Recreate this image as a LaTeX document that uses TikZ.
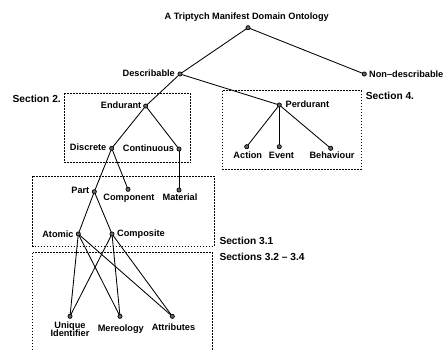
\documentclass[tikz,border=0pt]{standalone}
\usepackage{fontspec}
\setmainfont{Liberation Sans}
\newcommand\mytightlines{\lineskiplimit=-20pt\relax\lineskip=0pt\relax}
\begin{document}
\begin{tikzpicture}[x=1pt,y=-1pt,
  dot/.style={circle,draw=black,fill=black!60,line width=0.7pt,inner sep=0pt,minimum size=4.2pt},
  lbl/.style={font=\fontsize{9.2}{9}\selectfont\bfseries,inner sep=0pt},
  sec/.style={font=\fontsize{10.2}{10}\selectfont\bfseries,inner sep=0pt,anchor=west},
  edge/.style={line width=0.85pt},
  secbox/.style={line width=0.7pt,dash pattern=on 1.6pt off 1.4pt}]
\useasboundingbox (0,0) rectangle (446,349);
\clip (0,0) rectangle (446,349);
% section boxes
\draw[secbox] (64.3,93.3) rectangle (190.7,162.7);
\draw[secbox] (222.7,90.7) rectangle (361,169.3);
\draw[secbox] (32.7,176) rectangle (214.3,246);
\draw[secbox] (32.7,252.7) rectangle (212.3,360);
\node[sec,anchor=east] (s2) at (61,98.7) {Section 2.};
\node[sec] (s4) at (365.7,95.7) {Section 4.};
\node[sec] (s31) at (219.3,241) {Section 3.1};
\node[sec] (s32) at (219.3,257.3) {Sections 3.2 -- 3.4};
% node positions
\coordinate (root) at (248,27.7);
\coordinate (desc) at (180,74);
\coordinate (ndesc) at (364.3,74);
\coordinate (end) at (145.7,106);
\coordinate (per) at (279.3,105);
\coordinate (disc) at (111.7,148.3);
\coordinate (cont) at (179,149);
\coordinate (part) at (94.3,191.7);
\coordinate (comp) at (128,189.3);
\coordinate (mat) at (179,190);
\coordinate (act) at (246.7,146.7);
\coordinate (evt) at (279.3,146.7);
\coordinate (beh) at (330.7,148.3);
\coordinate (atom) at (78.3,234);
\coordinate (cmps) at (112,234);
\coordinate (uid) at (70,316.3);
\coordinate (mer) at (120,316.3);
\coordinate (att) at (172.3,316.3);
% edges
\draw[edge] (root) -- (desc);
\draw[edge] (root) -- (ndesc);
\draw[edge] (desc) -- (end);
\draw[edge] (desc) -- (per);
\draw[edge] (end) -- (disc);
\draw[edge] (end) -- (cont);
\draw[edge] (disc) -- (part);
\draw[edge] (disc) -- (comp);
\draw[edge] (cont) -- (mat);
\draw[edge] (per) -- (act);
\draw[edge] (per) -- (evt);
\draw[edge] (per) -- (beh);
\draw[edge] (part) -- (atom);
\draw[edge] (part) -- (cmps);
\draw[edge] (atom) -- (uid);
\draw[edge] (atom) -- (mer);
\draw[edge] (atom) -- (att);
\draw[edge] (cmps) -- (uid);
\draw[edge] (cmps) -- (mer);
\draw[edge] (cmps) -- (att);
% dots on top
\foreach \n in {root,desc,ndesc,end,per,disc,cont,part,comp,mat,act,evt,beh,atom,cmps,uid,mer,att}
  \node[dot] (d\n) at (\n) {};
% labels
\node[lbl] (tTitle) at (246.7,17.3) {A Triptych Manifest Domain Ontology};
\node[lbl,anchor=east] (tdesc) at (175,73) {Describable};
\node[lbl,anchor=west] (tndesc) at (369,74) {Non--describable};
\node[lbl,anchor=east] (tend) at (141.5,105) {Endurant};
\node[lbl,anchor=west] (tper) at (285.5,104.3) {Perdurant};
\node[lbl,anchor=east] (tdisc) at (106.5,147.7) {Discrete};
\node[lbl,anchor=east] (tcont) at (174.2,148.3) {Continuous};
\node[lbl,anchor=east] (tpart) at (89.5,190.7) {Part};
\node[lbl] (tcomp) at (129,198.7) {Component};
\node[lbl] (tmat) at (180,197.7) {Material};
\node[lbl] (tact) at (247.8,155.7) {Action};
\node[lbl] (tevt) at (281.5,155.2) {Event};
\node[lbl] (tbeh) at (332,155.7) {Behaviour};
\node[lbl,anchor=east] (tatom) at (73.7,234) {Atomic};
\node[lbl,anchor=west] (tcmps) at (117,234) {Composite};
\node[lbl,align=center,font=\fontsize{9.2}{7.6}\selectfont\bfseries\mytightlines] (tuid) at (70,329.4) {Unique\\Identifier};
\node[lbl] (tmer) at (120.8,329) {Mereology};
\node[lbl] (tatt) at (173.5,327.7) {Attributes};
\end{tikzpicture}
\end{document}
